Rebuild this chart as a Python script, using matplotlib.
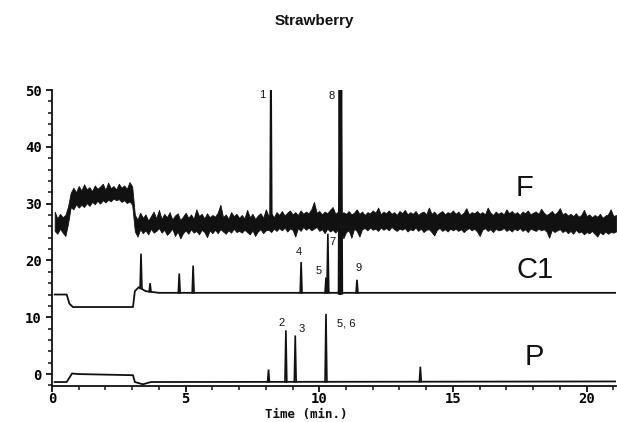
import numpy as np
import matplotlib
matplotlib.use("Agg")
import matplotlib.pyplot as plt
from matplotlib.ticker import MultipleLocator

INK = "#111111"
MONO = ["DejaVu Sans Mono"]
NARROW = ["Liberation Sans Narrow", "Liberation Sans", "DejaVu Sans"]

# --- F detector: noisy band, lower / upper edge every 0.1 min (0.1 .. 21.1) ---
F_T = np.linspace(0.1, 21.1, 211)
F_HI = [28.6, 27.4, 28.2, 27.6, 28.0, 29.5, 31.9, 32.8, 32.0, 33.1,
        32.3, 33.4, 32.5, 32.9, 32.2, 33.2, 32.6, 33.0, 33.5, 32.4,
        33.7, 32.7, 33.1, 32.5, 33.5, 32.8, 33.2, 32.6, 33.8, 33.0,
        28.0, 27.2, 28.4, 27.5, 28.1, 27.0, 27.8, 28.6, 27.4, 28.9,
        27.3, 28.2, 27.6, 28.5, 27.2, 27.9, 28.3, 27.1, 27.7, 28.4,
        27.5, 28.1, 27.3, 29.0, 27.8, 28.2, 27.4, 28.3, 27.6, 28.0,
        27.7, 28.4, 29.8, 27.6, 28.1, 27.3, 28.5, 27.8, 28.2, 27.5,
        28.0, 27.4, 28.9, 27.6, 28.2, 27.3, 27.9, 28.3, 27.5, 29.0,
        27.8, 28.3, 27.6, 28.5, 28.0, 28.7, 27.9, 28.4, 28.8, 28.1,
        28.5, 28.0, 28.8, 28.2, 28.6, 28.3, 29.0, 30.3, 28.4, 28.7,
        28.1, 28.6, 28.3, 28.9, 29.4, 28.2, 28.6, 28.0, 28.5, 28.2,
        28.7, 28.1, 28.4, 29.0, 28.2, 28.6, 28.0, 28.5, 28.3, 28.8,
        28.4, 29.3, 28.1, 28.6, 28.3, 28.8, 28.2, 28.5, 28.0, 28.7,
        28.3, 28.9, 28.1, 28.5, 28.2, 28.7, 28.0, 28.4, 28.6, 28.1,
        29.3, 28.2, 28.6, 28.0, 28.4, 28.7, 28.1, 28.5, 28.3, 28.8,
        28.2, 28.6, 28.0, 28.4, 29.2, 28.1, 28.5, 28.3, 28.7, 28.2,
        28.5, 28.1, 29.3, 28.4, 28.0, 28.6, 28.2, 28.5, 28.1, 29.0,
        28.3, 28.7, 28.2, 28.5, 28.0, 28.6, 28.3, 28.8, 28.1, 28.4,
        28.6, 28.2, 29.1, 28.4, 28.0, 28.3, 28.7, 28.1, 28.5, 29.2,
        28.1, 28.4, 27.9, 28.2, 27.8, 28.3, 27.7, 28.0, 28.9, 27.8,
        28.1, 27.6, 28.0, 27.7, 28.2, 27.5, 27.9, 28.1, 29.0, 27.8,
        28.0]
F_LO = [25.2, 24.7, 25.6, 24.9, 24.3, 26.5, 29.4, 29.0, 29.9, 29.3,
        29.8, 29.4, 30.1, 29.6, 30.3, 29.9, 30.5, 30.0, 30.6, 30.2,
        30.7, 30.4, 30.9, 30.6, 30.8, 30.3, 30.6, 30.1, 30.4, 29.8,
        25.1, 24.2, 25.5, 24.8, 25.3, 24.6, 25.6, 24.9, 25.2, 25.7,
        24.9, 25.4, 24.5, 25.0, 25.6, 24.3, 25.1, 23.9, 24.8, 25.3,
        24.7, 25.5, 24.9, 25.2, 24.6, 25.4, 25.0, 24.1, 25.3, 24.8,
        25.4, 24.8, 25.5, 25.1, 24.7, 25.3, 24.9, 25.6, 25.0, 25.2,
        24.9, 25.4, 25.0, 24.6, 25.3, 24.3, 25.1, 25.5, 24.8, 25.3,
        25.4, 25.0, 25.6, 25.2, 25.7, 25.3, 25.8, 25.1, 25.6, 25.4,
        24.2, 25.7, 25.2, 25.9, 25.4, 25.8, 25.3, 25.6, 25.9, 25.2,
        25.5, 24.8, 25.6, 25.1, 25.4, 24.9, 25.5, 25.2, 23.9, 25.0,
        25.3, 24.0, 25.6, 25.2, 24.2, 25.5, 25.7, 25.3, 25.8, 25.4,
        25.6, 25.2, 25.8, 25.4, 25.7, 25.3, 25.9, 25.5, 25.2, 25.6,
        25.4, 25.7, 25.1, 25.5, 25.3, 25.8, 25.2, 25.6, 25.0, 25.4,
        25.5, 25.0, 24.4, 25.4, 25.7, 25.2, 25.5, 25.1, 25.6, 25.3,
        25.6, 25.2, 25.5, 25.0, 25.4, 25.7, 25.3, 25.6, 25.1, 24.3,
        25.4, 25.7, 25.2, 25.5, 25.0, 25.6, 25.3, 25.4, 25.7, 25.2,
        25.5, 25.1, 25.6, 25.3, 25.7, 25.2, 25.5, 25.0, 25.6, 25.4,
        25.2, 25.6, 25.3, 25.5, 25.1, 24.0, 25.4, 25.0, 25.3, 25.5,
        25.0, 25.3, 24.8, 25.2, 24.7, 25.4, 24.9, 25.1, 24.6, 25.0,
        24.8, 25.2, 24.7, 24.2, 25.0, 24.6, 25.1, 24.7, 25.0, 24.9,
        25.1]
F_PEAK_T = [8.19]
F_PEAK_V = [55.0]

# --- C1 detector: baseline breakpoints and peaks ---
C1_BASE_T = [0.1, 0.55, 0.65, 0.78, 3.03, 3.1, 3.25, 3.5, 4.0, 21.1]
C1_BASE_V = [14.0, 14.0, 12.4, 11.8, 11.8, 14.6, 15.3, 14.6, 14.3, 14.3]
C1_PEAK_T = [3.33, 3.67, 4.76, 5.28, 9.32, 10.25, 10.32, 10.79, 11.41]
C1_PEAK_V = [21.2, 16.0, 17.7, 19.1, 19.7, 17.0, 24.7, 55.0, 16.6]

# --- P detector: baseline breakpoints and peaks ---
P_BASE_T = [0.1, 0.55, 0.75, 1.0, 3.03, 3.1, 3.4, 3.7, 21.1]
P_BASE_V = [-1.4, -1.4, 0.1, 0.0, -0.2, -1.4, -1.8, -1.4, -1.3]
P_PEAK_T = [8.10, 8.75, 9.10, 10.25, 13.78]
P_PEAK_V = [0.8, 7.7, 6.8, 10.6, 1.3]

PEAK_LABELS = [("1", 7.85, 49.1), ("8", 10.45, 49.0), ("4", 9.22, 21.5), ("5", 9.96, 18.1),
               ("7", 10.5, 23.2), ("9", 11.47, 18.7), ("2", 8.6, 9.0), ("3", 9.33, 7.9),
               ("5, 6", 11.0, 8.9)]
TRACE_LABELS = [("F", 17.66, 32.7), ("C1", 18.07, 18.3), ("P", 18.03, 3.0)]


def peaks(ax, base_t, base_v, pt, pv, w=0.035, lw=1.2, thick_lw=None):
    for t, top in zip(pt, pv):
        b = np.interp(t, base_t, base_v)
        use = thick_lw if (thick_lw and top > 50) else lw
        ax.plot([t - w, t, t + w], [b, top, b], color=INK, lw=use, solid_joinstyle="miter")


fig = plt.figure(figsize=(6.17, 4.22), dpi=100)
ax = fig.add_axes([52 / 617, 1 - 386 / 422, 564 / 617, 296 / 422])

# F band
ax.fill_between(F_T, F_LO, F_HI, color=INK, lw=0.6, edgecolor=INK)
f_mid = (np.array(F_LO) + np.array(F_HI)) / 2
peaks(ax, F_T, f_mid, F_PEAK_T, F_PEAK_V, w=0.03, lw=1.3)

# C1 and P traces
ax.plot(C1_BASE_T, C1_BASE_V, color=INK, lw=1.3)
peaks(ax, C1_BASE_T, C1_BASE_V, C1_PEAK_T, C1_PEAK_V, thick_lw=2.6)
ax.plot(P_BASE_T, P_BASE_V, color=INK, lw=1.3)
peaks(ax, P_BASE_T, P_BASE_V, P_PEAK_T, P_PEAK_V)

for s, x, y in PEAK_LABELS:
    ax.text(x, y, s, fontsize=8, family=NARROW, ha="center", va="center", color=INK)
for s, x, y in TRACE_LABELS:
    ax.text(x, y, s, fontsize=21, family=["Liberation Sans", "DejaVu Sans"], ha="center",
            va="center", color=INK)

ax.set_xlim(0, 21.1)
ax.set_ylim(-2.1, 50)
for s in ["top", "right"]:
    ax.spines[s].set_visible(False)
for s in ["left", "bottom"]:
    ax.spines[s].set_linewidth(1.3)
    ax.spines[s].set_color(INK)
ax.xaxis.set_major_locator(MultipleLocator(5))
ax.xaxis.set_minor_locator(MultipleLocator(1))
ax.yaxis.set_major_locator(MultipleLocator(10))
ax.yaxis.set_minor_locator(MultipleLocator(2))
ax.tick_params(which="major", length=4.5, width=1.3, color=INK)
ax.tick_params(which="minor", length=3, width=1.1, color=INK)
ax.tick_params(axis="x", which="major", pad=0)
ax.tick_params(axis="y", which="major", pad=3)
for lab in ax.get_xticklabels() + ax.get_yticklabels():
    lab.set_family(MONO)
    lab.set_fontweight("bold")
    lab.set_fontsize(10)
ax.set_xlabel("Time (min.)", family=MONO, fontweight="bold", fontsize=9, color=INK)
ax.xaxis.label.set_va("center")
ax.xaxis.set_label_coords(0.45, -0.096)

fig.text(0.51, 0.95, "Strawberry", ha="center", va="center", fontsize=11, fontweight="bold",
         family=NARROW, color=INK)

fig.savefig("out.png", dpi=100)
